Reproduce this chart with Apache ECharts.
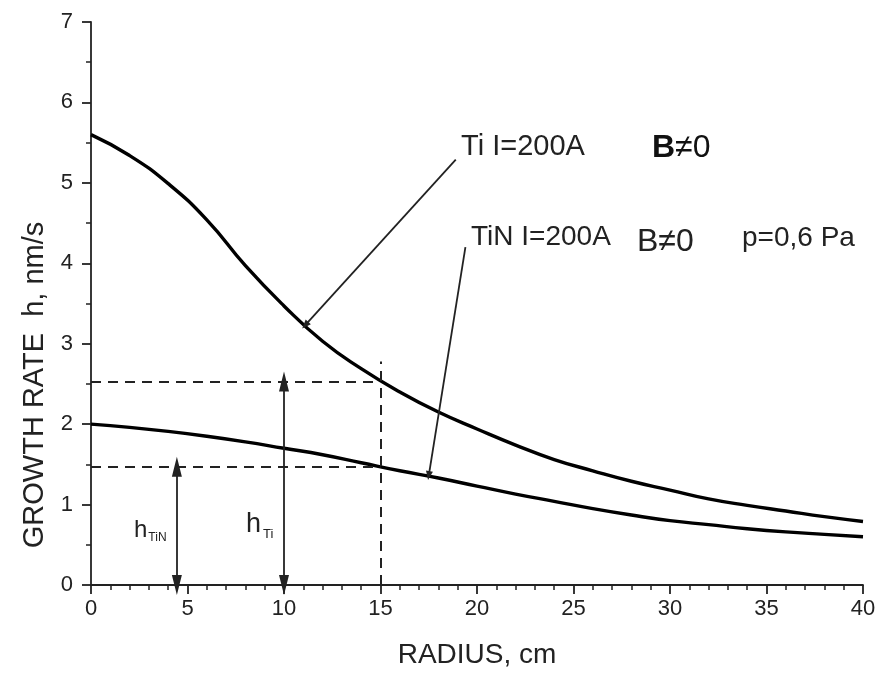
<!DOCTYPE html>
<html lang="en">
<head>
    <meta charset="UTF-8">
    <title>Growth rate vs radius</title>
    <script src="https://cdn.jsdelivr.net/npm/echarts@6/dist/echarts.min.js"></script>
    <style>
        html, body { margin: 0; padding: 0; background: #fff; }
    </style>
</head>
<body>
<div id="main" style="width: 879px;height:674px;"></div>
<script type="text/javascript">
    // radius, cm
    let radius = [0, 2, 4, 6, 8, 10, 12, 14, 16, 18, 20, 22, 24, 26, 28, 30, 32, 34, 36, 38, 40]
    // growth rate h, nm/s
    let ti_rate = [5.60, 5.34, 4.99, 4.54, 3.97, 3.47, 3.03, 2.69, 2.40, 2.15, 1.94, 1.74, 1.56, 1.42, 1.29, 1.18, 1.07, 0.99, 0.92, 0.85, 0.79]
    let tin_rate = [2.00, 1.96, 1.91, 1.85, 1.78, 1.70, 1.62, 1.52, 1.42, 1.33, 1.23, 1.13, 1.04, 0.95, 0.87, 0.80, 0.75, 0.70, 0.66, 0.63, 0.60]

    // dashed guides at r = 15 cm
    let guide_r = 15
    let guide_ti = 2.53
    let guide_tin = 1.47
    let guide_top = 2.78
    // double arrows (x position)
    let arrow_tin_x = 4.45
    let arrow_ti_x = 10
    // leader lines: [from curve, to label]
    let leader_ti = [[11.1, 3.23], [18.9, 5.29]]
    let leader_tin = [[17.5, 1.36], [19.4, 4.2]]

    let font = '"Liberation Sans", Arial, sans-serif'

    let myChart = echarts.init(document.getElementById('main'));

    function pair(a, b, style) {
        return [Object.assign({coord: a}, style.start || {}), Object.assign({coord: b}, style.end || {})]
    }

    let dashStyle = {type: [10, 7], color: '#222', width: 2}
    let solidStyle = {type: 'solid', color: '#222', width: 1.8}
    let bigArrow = {symbol: 'triangle', symbolSize: [10, 20]}

    let option = {
        animation: false,
        grid: {left: 91, right: 16, top: 22, bottom: 87},
        xAxis: {
            type: 'value',
            min: 0, max: 40, interval: 5,
            name: 'RADIUS, cm',
            nameLocation: 'middle',
            nameGap: 56,
            nameTextStyle: {fontSize: 28, color: '#222', fontFamily: font},
            axisLine: {lineStyle: {color: '#222', width: 1.8}},
            axisTick: {length: 9, lineStyle: {color: '#222', width: 1.8}},
            minorTick: {show: true, splitNumber: 5, length: 5, lineStyle: {color: '#222', width: 1.5}},
            splitLine: {show: false},
            axisLabel: {fontSize: 22, color: '#222', fontFamily: font, margin: 13}
        },
        yAxis: {
            type: 'value',
            min: 0, max: 7, interval: 1,
            axisLine: {show: true, lineStyle: {color: '#222', width: 1.8}},
            axisTick: {show: true, length: 9, lineStyle: {color: '#222', width: 1.8}},
            minorTick: {show: true, splitNumber: 2, length: 5, lineStyle: {color: '#222', width: 1.5}},
            splitLine: {show: false},
            axisLabel: {fontSize: 22, color: '#222', fontFamily: font, margin: 18}
        },
        graphic: [
            {type: 'text', x: 35, y: 385, rotation: Math.PI / 2,
                style: {text: 'GROWTH RATE  h, nm/s', fontSize: 29, fill: '#222', fontFamily: font, align: 'center', verticalAlign: 'middle'}},
            {type: 'text', x: 461, y: 147,
                style: {text: 'Ti I=200A', fontSize: 29, fill: '#222', fontFamily: font, verticalAlign: 'middle'}},
            {type: 'text', x: 652, y: 148,
                style: {text: '{b|B}≠0', fontSize: 32, fill: '#111', fontFamily: font, verticalAlign: 'middle',
                    rich: {b: {fontWeight: 'bold', fontSize: 32, fontFamily: font, fill: '#111'}}}},
            {type: 'text', x: 471, y: 237,
                style: {text: 'TiN I=200A', fontSize: 28, fill: '#222', fontFamily: font, verticalAlign: 'middle'}},
            {type: 'text', x: 637, y: 242,
                style: {text: 'B≠0', fontSize: 32, fill: '#222', fontFamily: font, verticalAlign: 'middle'}},
            {type: 'text', x: 742, y: 238,
                style: {text: 'p=0,6 Pa', fontSize: 28, fill: '#222', fontFamily: font, verticalAlign: 'middle'}},
            {type: 'text', x: 134, y: 530,
                style: {text: 'h{s|TiN}', fontSize: 24, fill: '#222', fontFamily: font, verticalAlign: 'middle',
                    rich: {s: {fontSize: 12, fontFamily: font, fill: '#222', padding: [16, 0, 0, 1]}}}},
            {type: 'text', x: 246, y: 525,
                style: {text: 'h{s|Ti}', fontSize: 27, fill: '#222', fontFamily: font, verticalAlign: 'middle',
                    rich: {s: {fontSize: 13, fontFamily: font, fill: '#222', padding: [18, 0, 0, 2]}}}}
        ],
        series: [
            {
                name: 'Ti', type: 'line', smooth: 0.5, symbol: 'none', silent: true,
                lineStyle: {color: '#000', width: 3.4},
                data: radius.map((r, i) => [r, ti_rate[i]])
            },
            {
                name: 'TiN', type: 'line', smooth: 0.5, symbol: 'none', silent: true,
                lineStyle: {color: '#000', width: 3.4},
                data: radius.map((r, i) => [r, tin_rate[i]])
            },
            {
                name: 'guides', type: 'line', data: [], silent: true,
                markLine: {
                    silent: true,
                    symbol: ['none', 'none'],
                    label: {show: false},
                    emphasis: {disabled: true},
                    data: [
                        pair([0, guide_ti], [guide_r - 0.3, guide_ti], {start: {lineStyle: dashStyle}}),
                        pair([0, guide_tin], [guide_r, guide_tin], {start: {lineStyle: dashStyle}}),
                        pair([guide_r, 0], [guide_r, guide_top], {start: {lineStyle: dashStyle}}),
                        pair([arrow_tin_x, 0], [arrow_tin_x, guide_tin], {
                            start: Object.assign({lineStyle: solidStyle}, bigArrow),
                            end: bigArrow
                        }),
                        pair([arrow_ti_x, 0], [arrow_ti_x, guide_ti], {
                            start: Object.assign({lineStyle: solidStyle}, bigArrow),
                            end: bigArrow
                        }),
                        pair(leader_ti[0], leader_ti[1], {
                            start: {symbol: 'triangle', symbolSize: [7, 9], lineStyle: solidStyle}
                        }),
                        pair(leader_tin[0], leader_tin[1], {
                            start: {symbol: 'triangle', symbolSize: [7, 9], lineStyle: solidStyle}
                        })
                    ]
                }
            }
        ]
    };
    myChart.setOption(option);
</script>
</body>
</html>
